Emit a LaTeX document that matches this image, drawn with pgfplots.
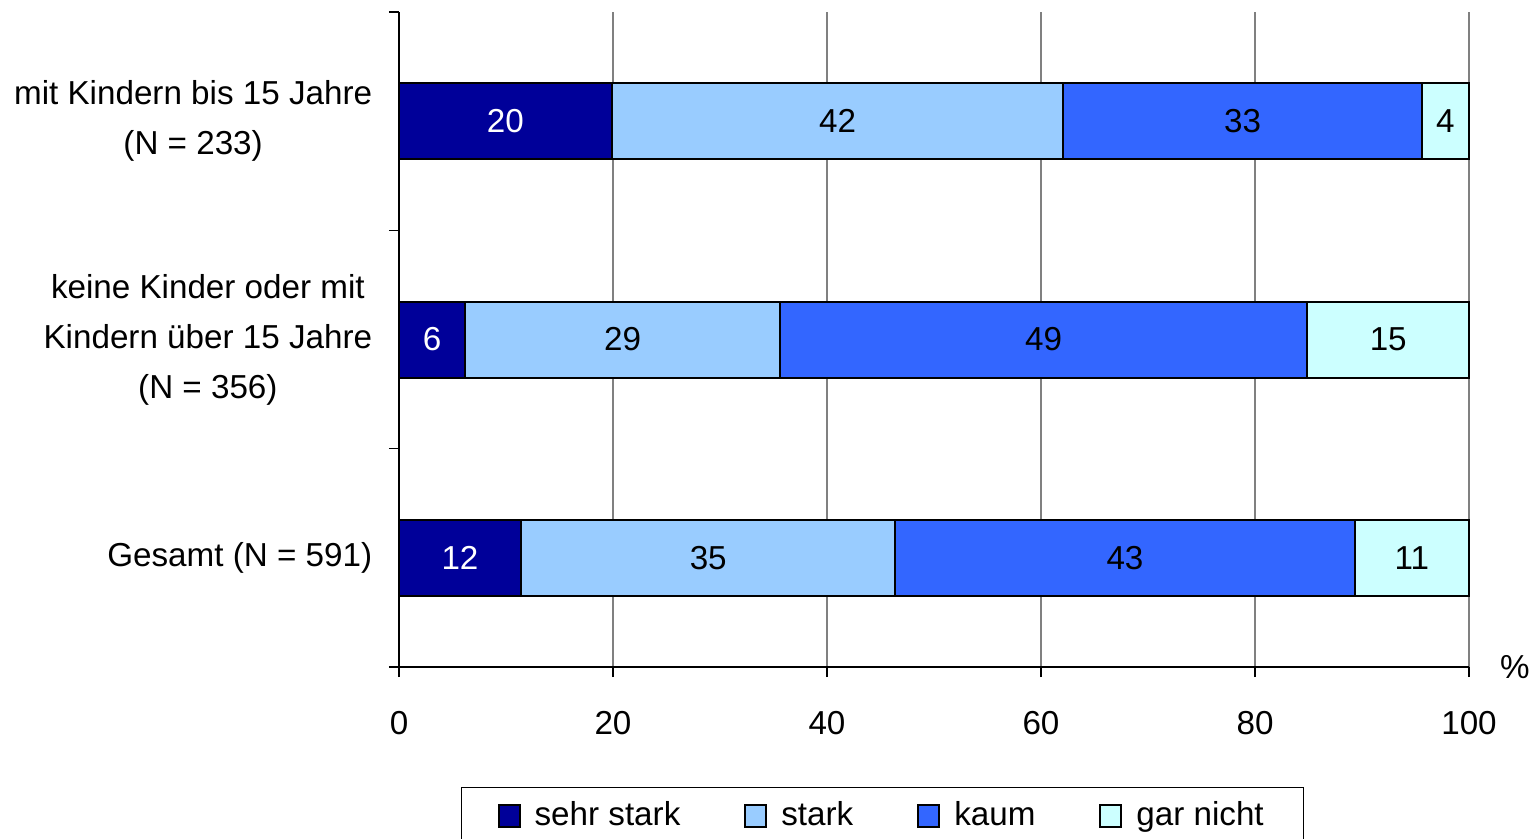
\documentclass[border=0pt]{standalone}
\usepackage{fontspec}
\setmainfont{Liberation Sans}
\usepackage{pgfplots}
\pgfplotsset{compat=1.18}
\definecolor{cA}{HTML}{000099}
\definecolor{cB}{HTML}{99CCFF}
\definecolor{cC}{HTML}{3366FF}
\definecolor{cD}{HTML}{CCFFFF}
\newcommand\ff{\fontsize{16.6bp}{25bp}\selectfont}
\pgfplotsset{
  mybar/.style={xbar, bar shift=0pt, draw=black, line width=1bp,
    legend image code/.code={\draw[##1, line width=1bp] (0bp,-5.5bp) rectangle (10.5bp,5.5bp);}},
}
\begin{document}
\ff
\begin{tikzpicture}
\begin{axis}[
  at={(0,0)}, anchor=south west,
  scale only axis, width=535bp, height=327.5bp,
  xmin=0, xmax=100, ymin=0.5, ymax=3.5,
  clip=false,
  stack plots=x,
  bar width=38bp,
  axis x line*=bottom, axis y line*=left,
  axis line style={-, black, line width=0.6bp},
  tick style={black, line width=0.6bp},
  tick align=outside, major tick length=5bp,
  xtick={0,20,...,100},
  xmajorgrids, grid style={gray, line width=0.6bp},
  ytick={0.5,1.5,2.5,3.5}, yticklabels={,,,},
  extra y ticks={1,2,3},
  extra y tick labels={{Gesamt (N = 591)},{keine Kinder oder mit\\Kindern über 15 Jahre\\(N = 356)},{mit Kindern bis 15 Jahre\\(N = 233)}},
  extra y tick style={major tick length=0pt, yticklabel style={align=center, xshift=-7.7bp}},
  /pgf/number format/assume math mode=true,
  every tick label/.append style={font=\ff},
  xticklabel style={yshift=-11.5bp},
  xlabel={\%},
  xlabel style={at={(axis description cs:1,0)}, anchor=center, xshift=23bp, yshift=0bp, font=\ff},
  legend columns=4,
  legend style={at={(axis description cs:0.058,0)}, anchor=north west, yshift=-60bp,
    draw=black, line width=0.6bp, inner xsep=18bp, inner ysep=5bp,
    font=\ff,
    /tikz/every odd column/.append style={column sep=5bp},
    /tikz/every even column/.append style={column sep=30bp}},
  legend cell align=left,
]
\addplot[mybar, fill=cA] coordinates {(11.4,1) (6.2,2) (19.9,3)};
\addplot[mybar, fill=cB] coordinates {(35.0,1) (29.4,2) (42.2,3)};
\addplot[mybar, fill=cC] coordinates {(42.9,1) (49.3,2) (33.5,3)};
\addplot[mybar, fill=cD] coordinates {(10.7,1) (15.1,2) (4.4,3)};
\legend{sehr stark, stark, kaum, gar nicht}
\addplot[forget plot, stack plots=false, draw=none, mark=none,
  nodes near coords, point meta=explicit symbolic,
  every node near coord/.append style={anchor=center, text=white, font=\ff}]
  table[meta=label] {
x y label
5.7 1 12
3.1 2 6
9.95 3 20
};
\addplot[forget plot, stack plots=false, draw=none, mark=none,
  nodes near coords, point meta=explicit symbolic,
  every node near coord/.append style={anchor=center, text=black, font=\ff}]
  table[meta=label] {
x y label
28.9 1 35
67.85 1 43
94.65 1 11
20.9 2 29
60.25 2 49
92.45 2 15
41.0 3 42
78.85 3 33
97.8 3 4
};
\end{axis}
\pgfresetboundingbox
\useasboundingbox (-199.5bp,-86bp) rectangle (570bp,333.5bp);
\end{tikzpicture}
\end{document}
